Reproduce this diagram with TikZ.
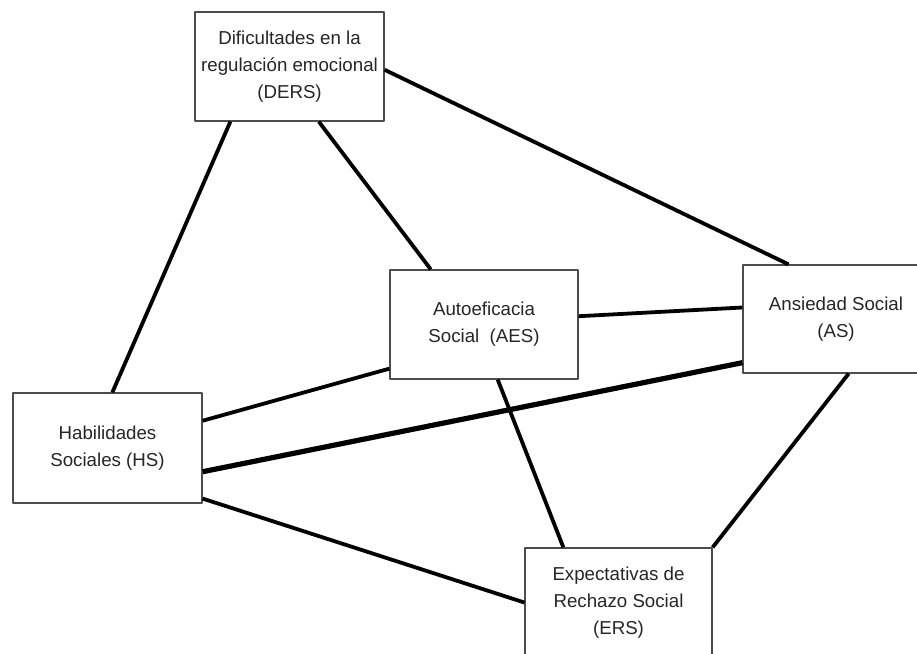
\documentclass[tikz,border=0pt]{standalone}
\usepackage{fontspec}
\setmainfont{Liberation Sans}

\begin{document}
\begin{tikzpicture}[x=1pt, y=-1pt, line cap=round, line join=round,
    caja/.style={draw=black!70, line width=1.3pt, fill=white, text=black!85,
      align=center, inner sep=0pt, font=\fontsize{18.7}{27}\selectfont},
    enlace/.style={line width=3.8pt, line cap=butt},
    enlacegrueso/.style={line width=5.2pt, line cap=butt}]

  %% ════ 方框（节点）════
  \node[caja, minimum width=189pt, minimum height=109pt] (DERS) at (289.5,66.5)
    {Dificultades en la\\regulación emocional\\(DERS)};
  \node[caja, minimum width=188pt, minimum height=109pt] (AES) at (484.0,324.5)
    {Autoeficacia\\Social\ \ (AES)};
  \node[caja, minimum width=186pt, minimum height=108pt] (AS) at (836.0,319.0)
    {Ansiedad Social\\(AS)};
  \node[caja, minimum width=189pt, minimum height=110pt] (HS) at (107.5,448.0)
    {Habilidades\\Sociales (HS)};
  \node[caja, minimum width=187pt, minimum height=109pt] (ERS) at (618.5,602.5)
    {Expectativas de\\Rechazo Social\\(ERS)};

  %% ════ 连线 ════
  \draw[enlace] (DERS.-137.5) -- (HS.85.3);
  \draw[enlace] (DERS.-62.4) -- (AES.134.7);
  \draw[enlace] (DERS.-2.1) -- (AS.131.6);
  \draw[enlace] (AES.5.8) -- (AS.173.3);
  \draw[enlace] (AES.-155.7) -- (HS.16.5);
  \draw[enlacegrueso] (HS.-14.3) -- (AS.-155.2);
  \draw[enlace] (HS.-28.8) -- (ERS.180);
  \draw[enlace] (AES.-76.6) -- (ERS.135.5);
  \draw[enlace] (AS.-77.5) -- (ERS.north east);

  % 钉死画布
  \pgfresetboundingbox
  \path[use as bounding box] (0,0) rectangle (917,653);
\end{tikzpicture}
\end{document}
